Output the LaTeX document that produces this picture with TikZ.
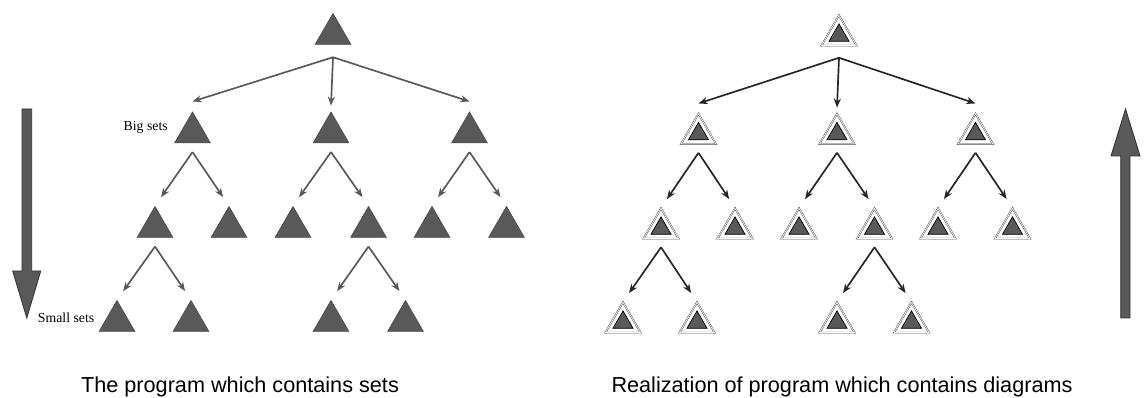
\documentclass[tikz,border=0pt]{standalone}
\usepackage{fontspec}
\setmainfont{Liberation Serif}
\newfontfamily\captfont{Liberation Sans}
\usetikzlibrary{shapes.geometric,arrows.meta}
\definecolor{setgray}{RGB}{89,89,89}
\begin{document}
\begin{tikzpicture}[x=0.025cm,y=-0.025cm,
    setnode/.style={regular polygon,regular polygon sides=3,minimum size=1.03cm,inner sep=0pt,fill=setgray,draw=setgray!80!black,line width=0.4pt},
    core/.style={regular polygon,regular polygon sides=3,minimum size=0.58cm,inner sep=0pt,fill=setgray,draw=black,line width=0.5pt},
    diagnode/.style={regular polygon,regular polygon sides=3,minimum size=1.01cm,inner sep=0pt,fill=white,draw=black!70,line width=0.35pt,double=white,double distance=0.5pt,label={[core]center:}},
    setarrow/.style={draw=black!65,line width=1.2pt,-{Stealth[length=6.5pt,width=5pt]}},
    diagarrow/.style={draw=black!85,line width=1.2pt,-{Stealth[length=6.5pt,width=5pt]}},
    bigarrow/.style={fill=setgray,draw=black!80,line width=0.6pt},
    capt/.style={font=\captfont\fontsize{15.4}{18}\selectfont,anchor=base,inner sep=0pt},
    setlabel/.style={font=\fontsize{9.8}{11}\selectfont,anchor=base east,inner sep=0pt}]
    \useasboundingbox (0,0) rectangle (1144,398);
    % program with sets
    \node[setnode] (s0) at (333,34) {};
    \node[setnode] (s1) at (192.5,132.5) {};
    \node[setnode] (s2) at (331,132.5) {};
    \node[setnode] (s3) at (469.5,132.5) {};
    \node[setnode] (s11) at (155,227) {};
    \node[setnode] (s12) at (229,227) {};
    \node[setnode] (s21) at (293,227) {};
    \node[setnode] (s22) at (368.5,227) {};
    \node[setnode] (s31) at (432,227) {};
    \node[setnode] (s32) at (506.5,227) {};
    \node[setnode] (s111) at (117,321) {};
    \node[setnode] (s112) at (191,321) {};
    \node[setnode] (s221) at (331,321) {};
    \node[setnode] (s222) at (405.5,321) {};
    \coordinate (s0f) at ([yshift=-9pt]s0.south);
    \coordinate (s1f) at ([yshift=-6.4pt]s1.south);
    \coordinate (s2f) at ([yshift=-6.4pt]s2.south);
    \coordinate (s3f) at ([yshift=-6.4pt]s3.south);
    \coordinate (s11f) at ([yshift=-6.4pt]s11.south);
    \coordinate (s22f) at ([yshift=-6.4pt]s22.south);
    \draw[setarrow] (s0f) -- ([yshift=7pt]s1.north);
    \draw[setarrow] (s0f) -- ([yshift=4pt]s2.north);
    \draw[setarrow] (s0f) -- ([yshift=7pt]s3.north);
    \draw[setarrow,shorten >=7.5pt] (s1f) -- (s11.north);
    \draw[setarrow,shorten >=7.5pt] (s1f) -- (s12.north);
    \draw[setarrow,shorten >=7.5pt] (s2f) -- (s21.north);
    \draw[setarrow,shorten >=7.5pt] (s2f) -- (s22.north);
    \draw[setarrow,shorten >=7.5pt] (s3f) -- (s31.north);
    \draw[setarrow,shorten >=7.5pt] (s3f) -- (s32.north);
    \draw[setarrow,shorten >=7.5pt] (s11f) -- (s111.north);
    \draw[setarrow,shorten >=7.5pt] (s11f) -- (s112.north);
    \draw[setarrow,shorten >=7.5pt] (s22f) -- (s221.north);
    \draw[setarrow,shorten >=7.5pt] (s22f) -- (s222.north);
    \node[setlabel] (big) at (168,131) {Big sets};
    \node[setlabel] (small) at (94.5,323) {Small sets};
    \filldraw[bigarrow] (22,109) -- (31.7,109) -- (31.7,271) -- (40.7,271) -- (26.8,318) -- (12.7,271) -- (22,271) -- cycle;
    \node[capt] (capl) at (240,393) {The program which contains sets};
    % realization with diagrams
    \node[diagnode] (d0) at (839,35.5) {};
    \node[diagnode] (d1) at (698.5,134) {};
    \node[diagnode] (d2) at (837,134) {};
    \node[diagnode] (d3) at (975.5,134) {};
    \node[diagnode] (d11) at (661,228.5) {};
    \node[diagnode] (d12) at (735,228.5) {};
    \node[diagnode] (d21) at (799,228.5) {};
    \node[diagnode] (d22) at (874.5,228.5) {};
    \node[diagnode] (d31) at (938,228.5) {};
    \node[diagnode] (d32) at (1012.5,228.5) {};
    \node[diagnode] (d111) at (623,322.5) {};
    \node[diagnode] (d112) at (697,322.5) {};
    \node[diagnode] (d221) at (837,322.5) {};
    \node[diagnode] (d222) at (911.5,322.5) {};
    \coordinate (d0f) at ([yshift=-8.5pt]d0.south);
    \coordinate (d1f) at ([yshift=-6pt]d1.south);
    \coordinate (d2f) at ([yshift=-6pt]d2.south);
    \coordinate (d3f) at ([yshift=-6pt]d3.south);
    \coordinate (d11f) at ([yshift=-6pt]d11.south);
    \coordinate (d22f) at ([yshift=-6pt]d22.south);
    \draw[diagarrow] (d0f) -- ([yshift=7pt]d1.north);
    \draw[diagarrow] (d0f) -- ([yshift=4pt]d2.north);
    \draw[diagarrow] (d0f) -- ([yshift=7pt]d3.north);
    \draw[diagarrow,shorten >=7.5pt] (d1f) -- (d11.north);
    \draw[diagarrow,shorten >=7.5pt] (d1f) -- (d12.north);
    \draw[diagarrow,shorten >=7.5pt] (d2f) -- (d21.north);
    \draw[diagarrow,shorten >=7.5pt] (d2f) -- (d22.north);
    \draw[diagarrow,shorten >=7.5pt] (d3f) -- (d31.north);
    \draw[diagarrow,shorten >=7.5pt] (d3f) -- (d32.north);
    \draw[diagarrow,shorten >=7.5pt] (d11f) -- (d111.north);
    \draw[diagarrow,shorten >=7.5pt] (d11f) -- (d112.north);
    \draw[diagarrow,shorten >=7.5pt] (d22f) -- (d221.north);
    \draw[diagarrow,shorten >=7.5pt] (d22f) -- (d222.north);
    \filldraw[bigarrow] (1120.7,318) -- (1130,318) -- (1130,156) -- (1140,156) -- (1125.5,109) -- (1111,156) -- (1120.7,156) -- cycle;
    \node[capt] (capr) at (842,393) {Realization of program which contains diagrams};
\end{tikzpicture}
\end{document}
